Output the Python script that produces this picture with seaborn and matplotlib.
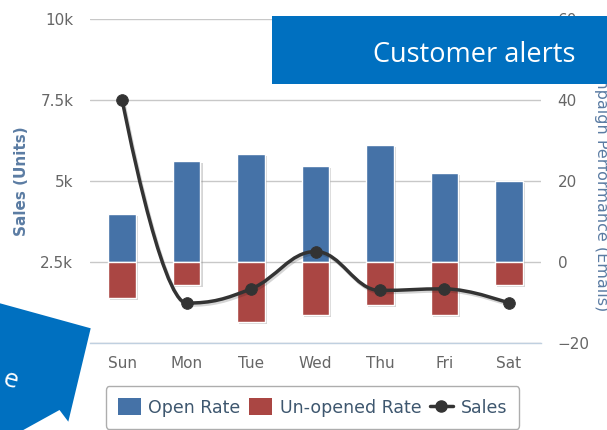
import matplotlib
matplotlib.use("Agg")
import matplotlib.pyplot as plt
import matplotlib.patheffects as pe
from matplotlib.path import Path
from matplotlib.patches import PathPatch, Rectangle, Polygon, Patch
from matplotlib.lines import Line2D
import seaborn as sns

# data
days = ["Sun", "Mon", "Tue", "Wed", "Thu", "Fri", "Sat"]
open_rate = [12, 25, 26.8, 23.8, 29, 22, 20.1]
unopened_rate = [-8.8, -5.7, -14.7, -12.9, -10.6, -12.9, -5.7]
sales = [7500, 1240, 1680, 2830, 1630, 1680, 1240]

sales_ticks = [2500, 5000, 7500, 10000]
sales_tick_labels = ["2.5k", "5k", "7.5k", "10k"]
email_ticks = [-20, 0, 20, 40, 60]

BLUE = "#4572A7"
RED = "#AA4643"
LINE = "#333333"
TITLE = "#5B7CA3"
TICK = "#666666"
AXIS = "#C0D0E0"
W, H = 607, 430

sns.set_theme(style="white")
plt.rcParams["font.family"] = ["DejaVu Sans"]


def spline_path(xs, ys, smoothing=1.5):
    # highcharts style spline through the points
    denom = smoothing + 1
    n = len(xs)
    lc = list(zip(xs, ys))
    rc = list(zip(xs, ys))
    for i in range(1, n - 1):
        x, y = xs[i], ys[i]
        lx, ly = xs[i - 1], ys[i - 1]
        nx, ny = xs[i + 1], ys[i + 1]
        lcx = (smoothing * x + lx) / denom
        lcy = (smoothing * y + ly) / denom
        rcx = (smoothing * x + nx) / denom
        rcy = (smoothing * y + ny) / denom
        corr = (rcy - lcy) * (rcx - x) / (rcx - lcx) + y - rcy
        lcy += corr
        rcy += corr
        if lcy > ly and lcy > y:
            lcy = max(ly, y)
            rcy = 2 * y - lcy
        elif lcy < ly and lcy < y:
            lcy = min(ly, y)
            rcy = 2 * y - lcy
        if rcy > ny and rcy > y:
            rcy = max(ny, y)
            lcy = 2 * y - rcy
        elif rcy < ny and rcy < y:
            rcy = min(ny, y)
            lcy = 2 * y - rcy
        lc[i] = (lcx, lcy)
        rc[i] = (rcx, rcy)
    verts = [(xs[0], ys[0])]
    codes = [Path.MOVETO]
    for i in range(1, n):
        verts += [rc[i - 1], lc[i], (xs[i], ys[i])]
        codes += [Path.CURVE4] * 3
    return Path(verts, codes)


fig = plt.figure(figsize=(W / 100, H / 100), dpi=100)
ax_sales = fig.add_axes([90 / W, 1 - 343.3 / H, (541 - 90) / W, (343.3 - 19) / H])
ax_mail = ax_sales.twinx()
ax_sales.set_zorder(2)
ax_sales.patch.set_visible(False)

# bars on the right axis
sns.barplot(x=days, y=open_rate, ax=ax_mail, color=BLUE, width=0.43, saturation=1,
            errorbar=None, edgecolor="white", linewidth=1)
sns.barplot(x=days, y=unopened_rate, ax=ax_mail, color=RED, width=0.43, saturation=1,
            errorbar=None, edgecolor="white", linewidth=1)
for p in ax_mail.patches:
    p.set_path_effects([pe.SimplePatchShadow(offset=(1.5, -1.5), shadow_rgbFace="#888888", alpha=0.35),
                        pe.Normal()])

ax_mail.set_ylim(-20, 60)
ax_mail.set_yticks(email_ticks)
ax_mail.yaxis.grid(True, color="#C8C8C8", linewidth=1)
ax_mail.set_axisbelow(True)
ax_mail.tick_params(axis="y", length=0, pad=12, labelsize=11, labelcolor=TICK)
ax_mail.set_ylabel("Campaign Performance (Emails)", fontsize=11.5, color=TITLE, rotation=270)
ax_mail.yaxis.label.set_va("center")
ax_mail.yaxis.set_label_coords((601 - 90) / 451, 0.5)
ax_mail.set_xlabel("")

# sales line on the left axis
xs = list(range(len(days)))
curve = PathPatch(spline_path(xs, sales), facecolor="none", edgecolor=LINE, linewidth=2.5,
                  zorder=3, path_effects=[pe.SimpleLineShadow(offset=(1, -1.5), alpha=0.18), pe.Normal()])
ax_sales.add_patch(curve)
sns.scatterplot(x=xs, y=sales, ax=ax_sales, color=LINE, s=70, edgecolor=LINE, zorder=4)

ax_sales.set_ylim(0, 10000)
ax_sales.set_yticks(sales_ticks, sales_tick_labels)
ax_sales.grid(False)
ax_sales.tick_params(axis="y", length=0, pad=12, labelsize=11, labelcolor=TICK)
ax_sales.set_ylabel("Sales (Units)", fontsize=11, fontweight="bold", color=TITLE)
ax_sales.yaxis.label.set_va("center")
ax_sales.yaxis.set_label_coords((22 - 90) / 451, 0.5)

ax_sales.set_xlim(-0.5, 6.5)
ax_sales.set_xticks(xs, days)
ax_sales.set_xticks([0.5, 1.5, 2.5, 3.5, 4.5, 5.5], minor=True)
ax_sales.tick_params(axis="x", which="major", length=0, pad=9, labelsize=11, labelcolor=TICK)
ax_sales.tick_params(axis="x", which="minor", length=5, width=1, color=AXIS, direction="out")

for ax in (ax_sales, ax_mail):
    for s in ax.spines.values():
        s.set_visible(False)
ax_sales.spines["bottom"].set_visible(True)
ax_sales.spines["bottom"].set_color(AXIS)
ax_sales.spines["bottom"].set_linewidth(1)

# legend
handles = [
    Patch(facecolor=BLUE, edgecolor="none", label="Open Rate"),
    Patch(facecolor=RED, edgecolor="none", label="Un-opened Rate"),
    Line2D([], [], color=LINE, linewidth=2.5, marker="o", markersize=8, label="Sales"),
]
leg = fig.legend(handles=handles, loc="center", bbox_to_anchor=(312.5 / W, 1 - 407.5 / H),
                 ncol=3, fontsize=12.5, frameon=True, fancybox=True, handlelength=1.3,
                 handleheight=1.1, handletextpad=0.45, columnspacing=0.5, borderpad=0.7)
leg.get_frame().set_edgecolor("#999999")
leg.get_frame().set_linewidth(1)
for t in leg.get_texts():
    t.set_color("#3E576F")

# overlay callouts
fig.add_artist(Rectangle((271.7 / W, 1 - 84.3 / H), (W - 271.7) / W, (84.3 - 16) / H,
                         transform=fig.transFigure, facecolor="#0070C0", edgecolor="none", zorder=10))
fig.text(474 / W, 1 - 61.7 / H, "Customer alerts", color="white", fontsize=19.5,
         family="Open Sans", ha="center", va="baseline", zorder=11)

corner = [(0, 303.3), (90.7, 328.3), (68.3, 421.7), (59.5, 410), (23.3, 430), (0, 430)]
fig.add_artist(Polygon([(x / W, 1 - y / H) for x, y in corner], closed=True,
                       transform=fig.transFigure, facecolor="#0070C0", edgecolor="none", zorder=10))
fig.text(10 / W, 1 - 381 / H, "e", color="white", fontsize=19, family="Open Sans",
         rotation=-15, ha="center", va="center", zorder=11)

fig.savefig("out.png", dpi=100)
